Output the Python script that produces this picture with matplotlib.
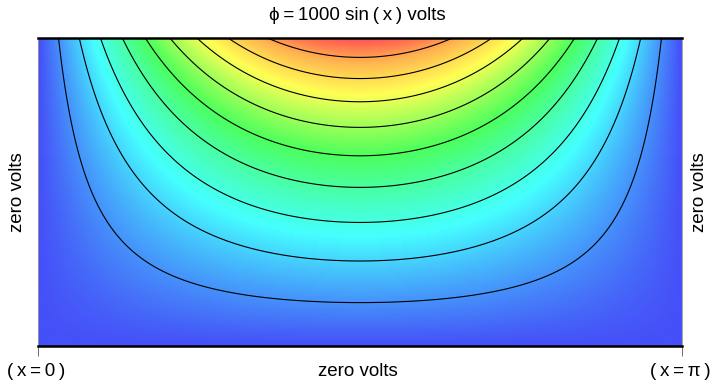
import numpy as np
import matplotlib.pyplot as plt
from matplotlib.colors import LinearSegmentedColormap

plt.rcParams['font.family'] = ['Liberation Sans', 'DejaVu Sans']

# potential on the top plate, other three sides grounded
v_top = 1000.0
height = 1.5          # box height (width is pi)
levels = [100, 200, 300, 400, 500, 600, 700, 800, 900]

title = "\u03d5\u2009=\u20091000 sin\u2009(\u2009x\u2009) volts"
side_label = "zero volts"
left_label = "(\u2009x\u2009=\u20090\u2009)"
right_label = "(\u2009x\u2009=\u2009\u03c0\u2009)"

# colour ramp (blue -> cyan -> green -> yellow -> red)
ramp_pos = [0.0, 0.26, 0.5, 0.73, 0.88, 1.0]
ramp_col = ["#4650f8", "#45ffff", "#4cff5c", "#ffff55", "#ffb450", "#ff5550"]
cmap = LinearSegmentedColormap.from_list("ramp", list(zip(ramp_pos, ramp_col)))

x = np.linspace(0, np.pi, 400)
y = np.linspace(0, height, 200)
X, Y = np.meshgrid(x, y)
phi = v_top * np.sin(X) * np.sinh(Y) / np.sinh(height)

W, H = 715, 386
fig = plt.figure(figsize=(W / 100, H / 100), dpi=100)
ax = fig.add_axes([38 / W, 40 / H, 644 / W, 308 / H])
ax.imshow(phi, origin="lower", extent=[0, np.pi, 0, height], aspect="auto",
          cmap=cmap, vmin=0, vmax=v_top, interpolation="bilinear")
ax.contour(X, Y, phi, levels=levels, colors="black", linewidths=0.8)
ax.set_xlim(0, np.pi)
ax.set_ylim(0, height)

# frame: heavy top and bottom, faint sides
for side in ["left", "right"]:
    ax.spines[side].set_color("#999999")
    ax.spines[side].set_linewidth(0.6)
for side in ["top", "bottom"]:
    ax.spines[side].set_color("black")
    ax.spines[side].set_linewidth(1.8)

ax.set_yticks([])
ax.set_xticks([0, np.pi])
ax.set_xticklabels([])
ax.tick_params(axis="x", length=7, width=0.6, color="#555555")

# labels placed in pixel positions of the reference
fig.text(357 / W, 1 - 15 / H, title, ha="center", va="center", fontsize=13.5)
fig.text(358 / W, 1 - 372 / H, side_label, ha="center", va="center", fontsize=13.5)
fig.text(36 / W, 1 - 372 / H, left_label, ha="center", va="center", fontsize=13.5)
fig.text(680 / W, 1 - 372 / H, right_label, ha="center", va="center", fontsize=13.5)
fig.text(18 / W, 1 - 192 / H, side_label, ha="center", va="center",
         rotation=90, fontsize=13.5)
fig.text(700 / W, 1 - 192 / H, side_label, ha="center", va="center",
         rotation=90, fontsize=13.5)

fig.savefig("out.png", dpi=100)
